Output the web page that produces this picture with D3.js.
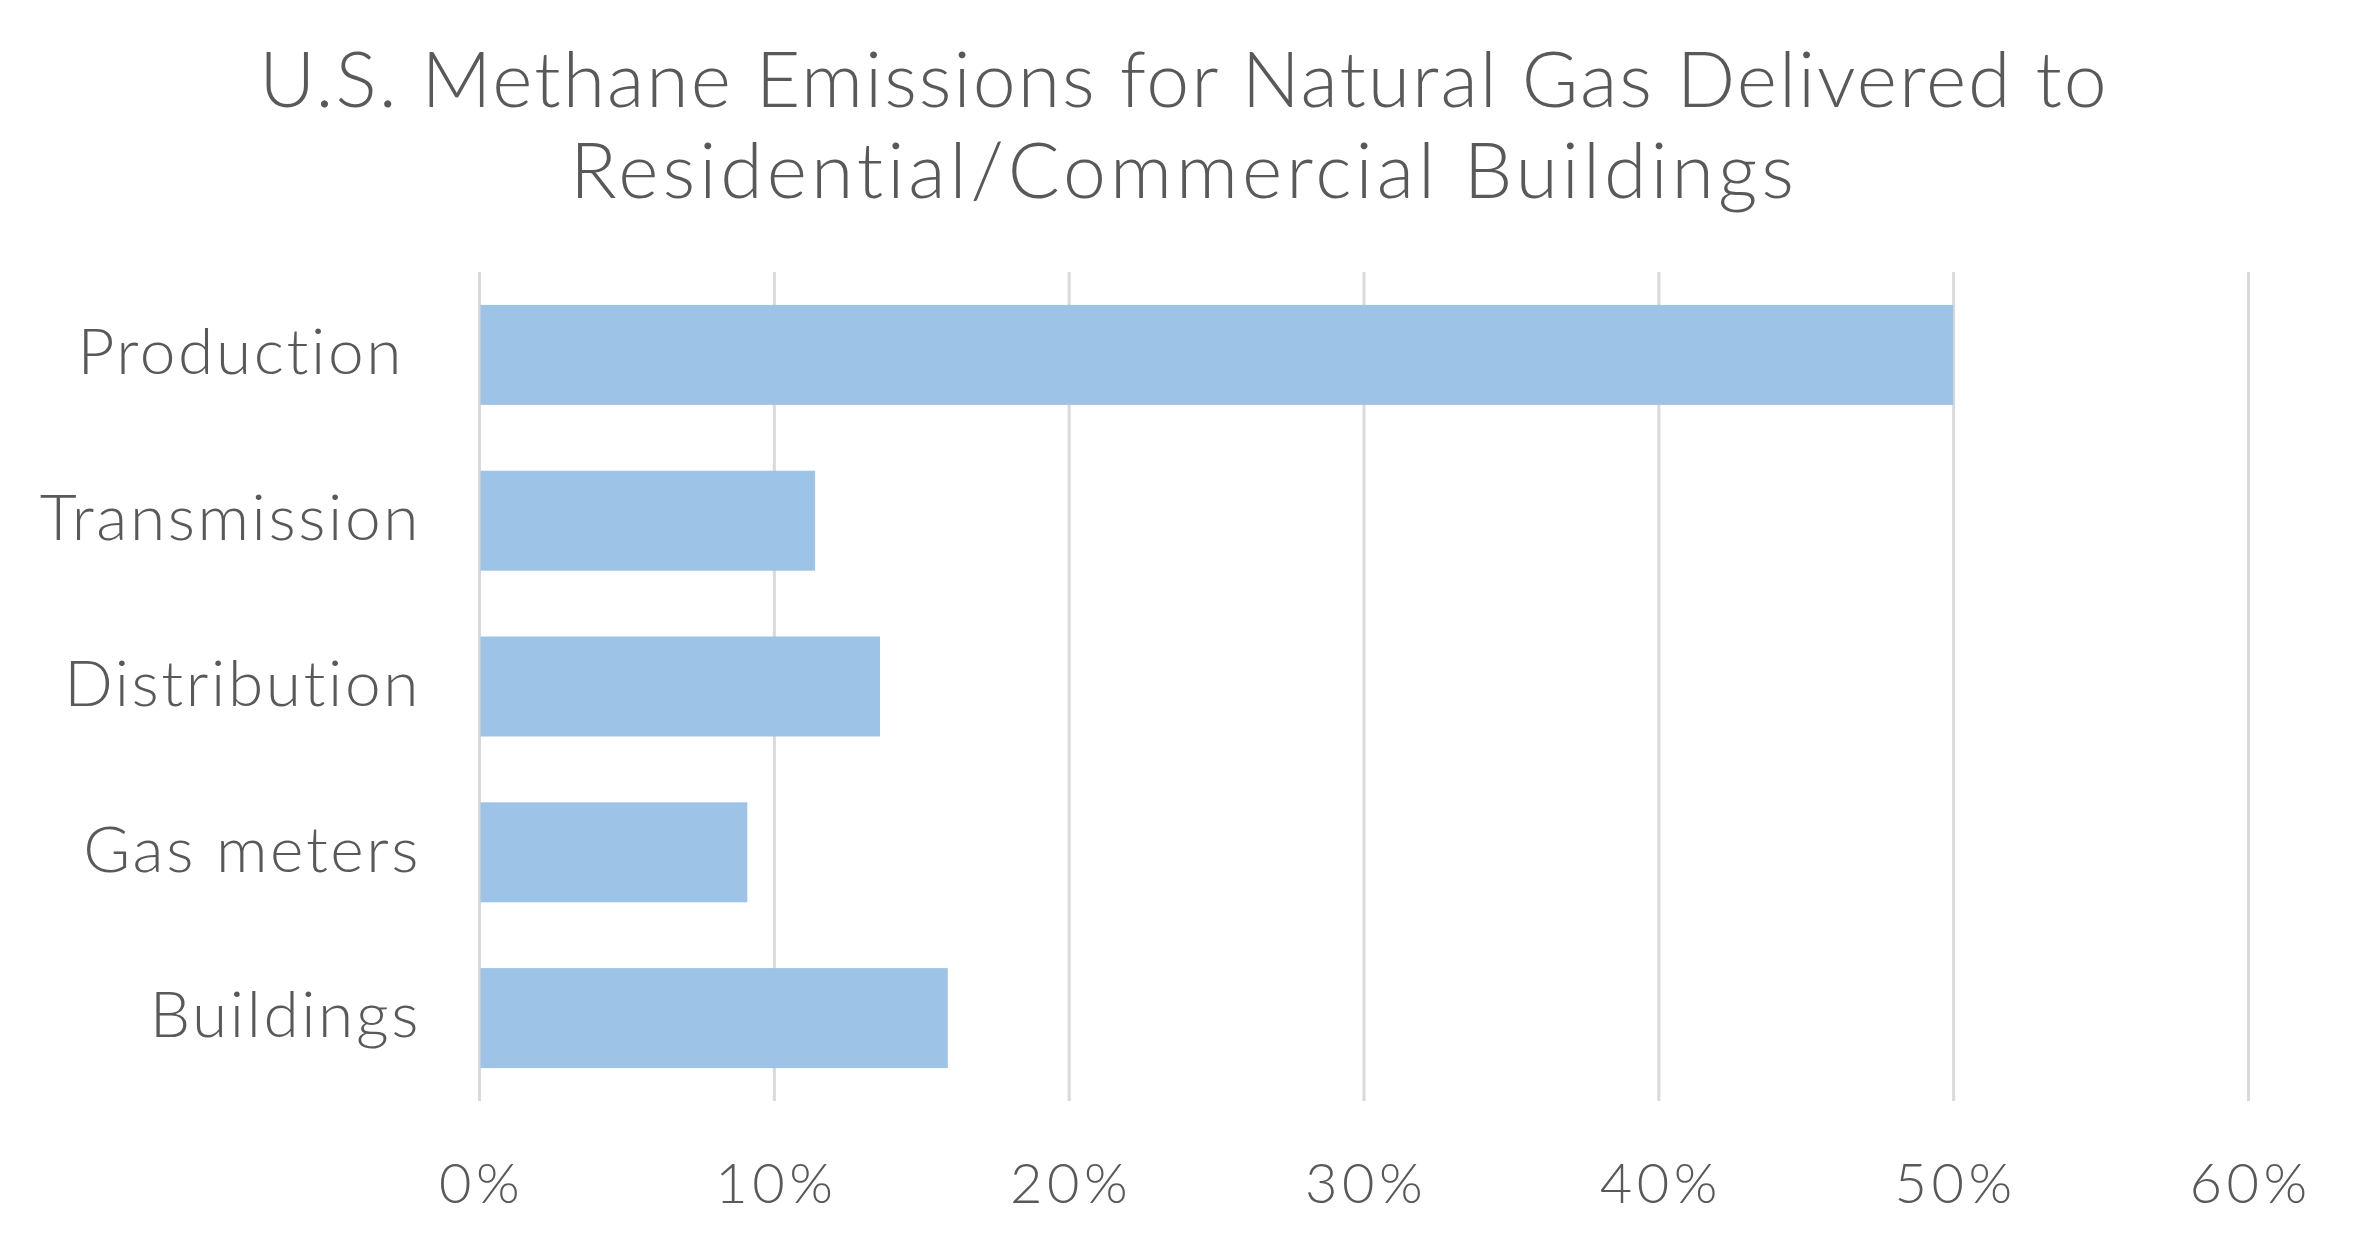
<!DOCTYPE html>
<html>
<head>
<meta charset="utf-8">
<script src="https://cdn.jsdelivr.net/npm/d3@7"></script>
<style>
  html, body { margin: 0; padding: 0; background: #fff; }
  text { font-family: "Lato", "Open Sans", sans-serif; fill: #595959; }
</style>
</head>
<body>
<div class="bar-container"></div>
<script>
// data
var categories = ["Production", "Transmission", "Distribution", "Gas meters", "Buildings"];
var values = [0.50, 0.114, 0.136, 0.091, 0.159];
var tickValues = [0, 0.1, 0.2, 0.3, 0.4, 0.5, 0.6];
var titleLines = ["U.S. Methane Emissions for Natural Gas Delivered to", "Residential/Commercial Buildings"];

var width = 2364, height = 1246;
var margin = {top: 272, left: 479};
var contentWidth = 1769,
    contentHeight = 829;
var fontWeight = 300;
var titleSpacing = [2.0, 4.0];   // 标题字间距(每行)

var svg = d3.select(".bar-container").append("svg")
    .attr("width", width)
    .attr("height", height);

// 标题
svg.append("g").selectAll("text")
    .data(titleLines)
    .enter().append("text")
    .attr("x", 1184)
    .attr("y", function(d, i){ return 107 + i * 91; })
    .attr("text-anchor", "middle")
    .attr("font-size", 77)
    .attr("font-weight", fontWeight)
    .attr("letter-spacing", function(d, i){ return titleSpacing[i]; })
    .text(function(d){ return d; });

var xScale = d3.scaleLinear()
    .domain([0, 0.6])
    .range([0, contentWidth]);

var yScale = d3.scaleBand()
    .domain(categories)
    .range([0, contentHeight])
    .paddingInner(0.397)
    .paddingOuter(0.1985);

var g = svg.append("g")
    .attr("transform", "translate(" + margin.left + "," + margin.top + ")");

// 网格线 + x轴文字
var xAxis = d3.axisBottom(xScale)
    .tickValues(tickValues)
    .tickSize(contentHeight)
    .tickFormat(d3.format(".0%"));

var xg = g.append("g")
    .attr("class", "x-axis")
    .call(xAxis);
xg.select(".domain").remove();
xg.selectAll("line").attr("stroke", "#d9d9d9").attr("stroke-width", 3);
xg.selectAll("text")
    .attr("y", 1203 - margin.top)
    .attr("dy", 0)
    .attr("dx", 2)
    .attr("font-size", 56)
    .attr("font-weight", fontWeight)
    .attr("letter-spacing", 4.5)
    .attr("fill", "#595959")
    .attr("font-family", "Lato, sans-serif");

// 柱子
g.selectAll("rect")
    .data(values)
    .enter().append("rect")
    .attr("x", xScale(0) + 1.5)
    .attr("y", function(d, i){ return yScale(categories[i]); })
    .attr("width", function(d){ return xScale(d) - xScale(0) - 1.5; })
    .attr("height", yScale.bandwidth())
    .attr("fill", "#9dc3e6");

// 分类标签
var yAxis = d3.axisLeft(yScale).tickSize(0).tickPadding(58);
var yg = g.append("g").attr("class", "y-axis").call(yAxis);
yg.select(".domain").remove();
yg.selectAll("text")
    .attr("font-size", 64)
    .attr("font-weight", fontWeight)
    .attr("letter-spacing", 2.6)
    .attr("fill", "#595959")
    .attr("font-family", "Lato, sans-serif")
    .attr("dy", "0.3em")
    .attr("dx", function(d){ return d === "Production" ? -17 : 0; });
</script>
</body>
</html>
